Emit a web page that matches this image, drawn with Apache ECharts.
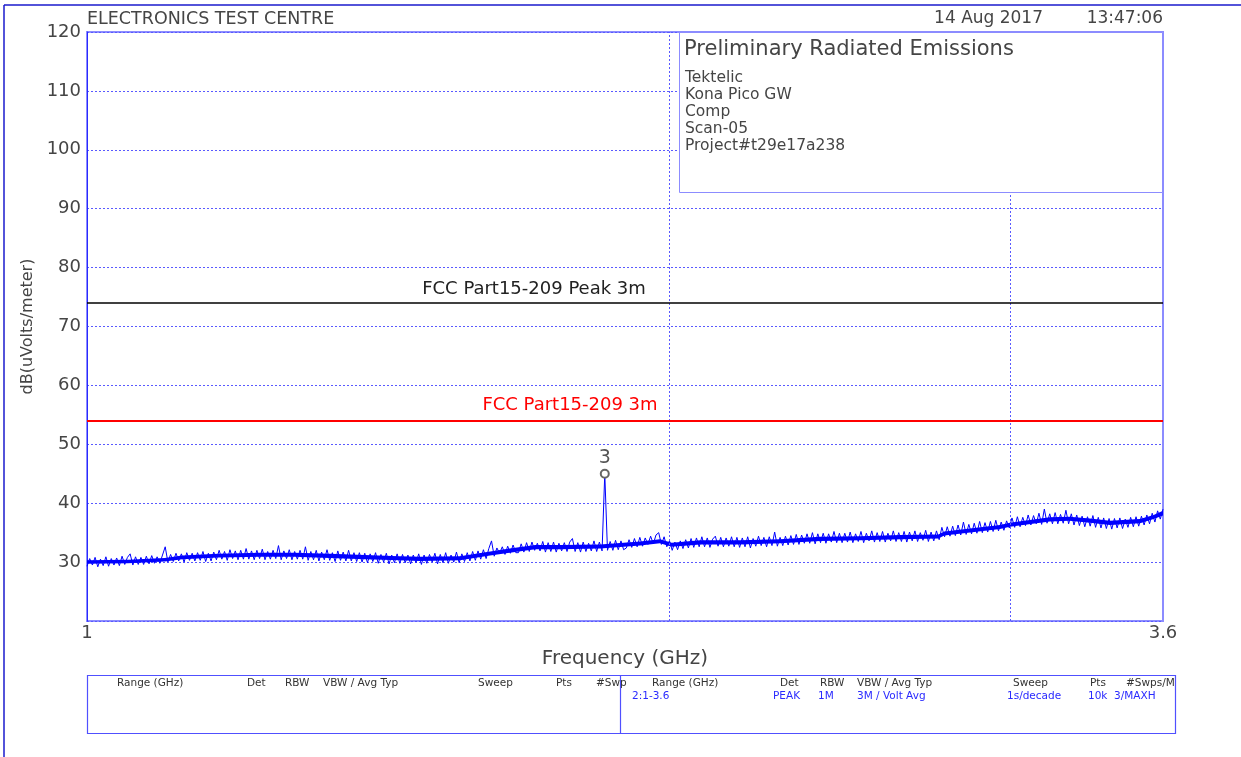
<!DOCTYPE html>
<html><head><meta charset="utf-8">
<script src="https://cdn.jsdelivr.net/npm/echarts@6/dist/echarts.min.js"></script>
<style>html,body{margin:0;padding:0;background:#fff}#c{width:1241px;height:757px}</style>
</head><body><div id="c"></div>
<script>
// ---- data ----
const sweepStartGHz = 1;
const sweepStopGHz = 3.6;
const yMin = 20, yMax = 120, yStep = 10;
const verticalGridGHz = [2, 3];
const limitPeak = { name: 'FCC Part15-209 Peak 3m', level: 74 };
const limitAvg = { name: 'FCC Part15-209 3m', level: 54 };
const markerLabel = '3';
// dense core of the noise band (lower / upper edge), read at these frequencies
const bandFreqs = [1.000,1.050,1.097,1.120,1.169,1.229,1.280,1.335,1.392,1.450,1.486,1.559,1.616,1.654,1.705,1.756,1.842,1.932,1.978,2.006,2.075,2.176,2.282,2.393,2.510,2.633,2.755,2.775,2.965,3.000,3.146,3.220,3.300,3.380,3.503,3.560,3.600];
const bandLow  = [29.7,29.8,30.1,30.5,30.8,30.9,30.9,30.7,30.5,30.3,30.2,30.3,31.1,31.6,32.2,32.2,32.3,32.8,33.2,32.6,33.0,33.0,33.2,33.6,33.7,33.9,34.0,34.5,35.6,36.0,36.9,37.0,36.7,36.3,36.6,37.3,37.9];
const bandHigh = [30.3,30.4,30.7,31.1,31.4,31.6,31.6,31.4,31.2,31.0,30.9,31.0,31.8,32.3,32.9,32.9,33.0,33.5,33.9,33.3,33.7,33.7,33.9,34.3,34.4,34.6,34.7,35.2,36.3,36.7,37.6,37.7,37.4,37.0,37.3,38.0,38.7];
// individual sweep readings (spiky fringe of the trace), log-spaced points
const traceLevels = [
29.3,30.6,29.5,30.8,29.2,30.5,29.4,30.9,29.3,30.6,29.5,30.7,29.4,31.0,29.6,30.8,31.4,29.5,30.9,29.6,
30.8,29.6,31.0,29.7,31.1,29.8,30.9,29.8,31.2,32.6,30.0,31.3,30.1,31.5,30.2,31.4,30.0,31.6,30.3,31.5,
30.2,31.6,30.3,31.8,30.1,31.5,30.2,31.7,30.4,32.0,30.5,31.8,30.3,32.1,30.6,31.9,30.4,32.0,30.5,32.3,
30.5,31.9,30.4,32.0,30.6,32.2,30.4,31.8,30.5,32.0,30.6,32.8,30.4,31.9,30.6,32.1,30.4,31.8,30.5,32.0,
30.5,32.6,30.3,31.8,30.4,32.0,30.2,31.7,30.4,32.1,30.3,31.6,30.1,31.9,30.3,31.7,30.2,32.0,30.2,31.6,
30.1,31.6,30.0,31.5,29.9,31.4,30.1,31.6,29.8,31.3,30.0,31.5,29.7,31.2,29.9,31.4,29.8,31.3,29.9,31.2,
29.7,31.2,29.9,31.4,29.6,31.2,29.8,31.3,30.0,31.5,29.7,31.3,29.9,31.6,29.8,31.2,30.0,31.7,29.9,31.4,
30.1,31.6,30.2,31.8,30.3,31.9,30.5,32.1,30.6,32.3,33.6,31.0,32.4,31.5,32.6,31.3,32.7,31.5,32.9,31.6,
31.6,33.1,31.7,33.3,31.8,33.4,32.0,33.2,31.9,33.5,31.7,33.3,31.8,33.4,31.7,33.2,31.9,33.3,31.8,33.4,
34.0,31.8,33.3,31.7,33.4,31.8,33.2,31.9,33.6,31.8,33.4,31.9,45.0,32.0,33.5,32.0,33.7,32.1,33.6,32.1,
32.4,33.8,32.5,34.0,32.6,34.2,32.7,34.1,33.0,34.4,33.1,34.6,35.0,33.0,34.3,32.6,33.6,32.0,33.4,32.1,
33.6,32.3,33.8,32.4,34.0,32.5,34.1,32.6,34.3,32.6,34.1,32.5,33.9,34.4,32.7,34.2,32.6,34.1,32.7,34.3,
32.6,34.2,32.5,34.1,32.6,34.3,32.4,34.0,32.7,34.4,32.8,34.2,32.6,34.3,32.8,35.1,32.7,34.2,32.8,34.4,
32.9,34.5,33.0,34.7,33.0,34.6,33.2,34.8,33.2,35.0,33.1,34.8,33.3,34.9,33.2,34.8,33.4,35.2,33.3,34.9,
33.3,34.9,33.4,35.1,33.3,34.8,33.5,35.2,33.3,34.9,33.6,35.3,33.4,35.0,33.5,35.2,33.4,34.9,33.6,35.3,
33.5,35.0,33.5,35.2,33.4,35.1,33.6,35.3,33.5,35.0,33.7,35.4,33.5,35.1,33.6,35.3,33.8,35.9,34.3,36.0,
34.4,36.1,34.5,36.3,34.6,36.8,34.7,36.4,34.8,36.6,34.9,36.9,35.0,36.7,35.1,36.9,35.2,37.1,35.3,36.8,
35.4,37.0,35.8,37.5,35.9,37.7,36.0,37.6,36.2,38.0,36.3,37.9,36.5,38.3,36.4,39.0,36.6,38.2,36.5,38.4,
36.5,38.1,36.6,38.8,36.5,38.2,36.3,38.0,36.2,37.8,36.0,37.7,36.1,37.9,35.9,37.6,35.8,37.5,35.7,37.4,
35.6,37.4,35.8,37.5,35.7,37.3,35.9,37.6,36.0,37.7,36.1,37.8,36.3,38.0,36.5,38.3,36.8,38.7,37.3,39.0
];
const infoTitle = 'Preliminary Radiated Emissions';
const infoLines = ['Tektelic', 'Kona Pico GW', 'Comp', 'Scan-05', 'Project#t29e17a238'];
const headerLeft = 'ELECTRONICS TEST CENTRE';
const headerDate = '14 Aug 2017';
const headerTime = '13:47:06';
const tableHeads = ['Range (GHz)', 'Det', 'RBW', 'VBW / Avg Typ', 'Sweep', 'Pts', '#Swp'];
const tableHeads2 = ['Range (GHz)', 'Det', 'RBW', 'VBW / Avg Typ', 'Sweep', 'Pts', '#Swps/M'];
const tableVals2 = ['2:1-3.6', 'PEAK', '1M', '3M / Volt Avg', '1s/decade', '10k', '3/MAXH'];

// ---- build ----
// sweep points are log-spaced between start and stop (analyzer log sweep)
const n = traceLevels.length;
const lr = Math.log10(sweepStopGHz / sweepStartGHz);
const trace = traceLevels.map((v, i) => [sweepStartGHz * Math.pow(10, lr * i / (n - 1)), v]);
const bandData = bandFreqs.map((f, i) => [f, bandLow[i], bandHigh[i]]);

const FF = '"DejaVu Sans", "Liberation Sans", sans-serif';
const TXT = '#454545';
const BL = '#8c8cff';
const GRID = '#5a5aff';

const chart = echarts.init(document.getElementById('c'), null, { renderer: 'canvas' });

function txt(x, y, text, size, color, align) {
  return {
    type: 'text', z: 120, silent: true,
    style: { x: x, y: y, text: text, fill: color || TXT, font: size + 'px ' + FF, textAlign: align || 'left', textVerticalAlign: 'middle' }
  };
}

const graphics = [
  { type: 'line', z: 120, silent: true, shape: { x1: 4, y1: 5, x2: 1241, y2: 5 }, style: { stroke: '#1a1acc', lineWidth: 1.5 } },
  { type: 'line', z: 120, silent: true, shape: { x1: 4, y1: 5, x2: 4, y2: 757 }, style: { stroke: '#1a1acc', lineWidth: 1.5 } },
  txt(87, 19, headerLeft, 17.5),
  txt(1043, 19, headerDate, 17, TXT, 'right'),
  txt(1163, 19, headerTime, 17, TXT, 'right'),
  { type: 'rect', z: 110, silent: true, shape: { x: 679.5, y: 32.5, width: 483, height: 160 }, style: { fill: '#fff', stroke: BL, lineWidth: 1 } },
  txt(684, 50, infoTitle, 21),
  // bottom settings table
  { type: 'rect', z: 110, silent: true, shape: { x: 87.5, y: 675.5, width: 1088, height: 58 }, style: { fill: '#fff', stroke: '#5050ff', lineWidth: 1.2 } },
  { type: 'line', z: 111, silent: true, shape: { x1: 620.5, y1: 675, x2: 620.5, y2: 734 }, style: { stroke: '#5050ff', lineWidth: 1.2 } }
];
infoLines.forEach((t, i) => graphics.push(txt(685, 78 + i * 17, t, 15.5)));
const headX1 = [117, 247, 285, 323, 478, 556, 596];
const headX2 = [652, 780, 820, 857, 1013, 1090, 1126];
const valX2 = [632, 773, 818, 857, 1007, 1088, 1114];
tableHeads.forEach((t, i) => graphics.push(txt(headX1[i], 683, t, 10.5, '#333')));
tableHeads2.forEach((t, i) => graphics.push(txt(headX2[i], 683, t, 10.5, '#333')));
tableVals2.forEach((t, i) => graphics.push(txt(valX2[i], 696, t, 10.5, '#2a2aff')));

chart.setOption({
  animation: false,
  backgroundColor: '#fff',
  grid: { left: 87, right: 78, top: 32, bottom: 136, show: true, borderColor: BL, borderWidth: 2, backgroundColor: 'transparent' },
  xAxis: {
    type: 'log', logBase: 10, min: sweepStartGHz, max: sweepStopGHz,
    name: 'Frequency (GHz)', nameLocation: 'middle', nameGap: 28,
    nameTextStyle: { fontFamily: FF, fontSize: 20, color: TXT },
    axisLine: { show: false }, axisTick: { show: false }, splitLine: { show: false }, minorSplitLine: { show: false },
    axisLabel: { show: true, fontFamily: FF, fontSize: 18, color: TXT, margin: 3, showMinLabel: true, showMaxLabel: true,
      formatter: v => String(Math.round(v * 10) / 10) }
  },
  yAxis: {
    type: 'value', min: yMin, max: yMax, interval: yStep,
    name: 'dB(uVolts/meter)', nameLocation: 'middle', nameGap: 42,
    nameTextStyle: { fontFamily: FF, fontSize: 16, color: TXT },
    axisLine: { show: true, lineStyle: { color: '#2a2aff', width: 1 } },
    axisTick: { show: false },
    axisLabel: { fontFamily: FF, fontSize: 18, color: TXT, margin: 6, formatter: v => v === yMin ? '' : String(v) },
    splitLine: { show: true, lineStyle: { color: GRID, type: [2, 2], width: 1 } }
  },
  graphic: graphics,
  series: [
    {
      name: 'vgrid', type: 'line', data: [], z: 1, silent: true,
      markLine: { silent: true, symbol: 'none', label: { show: false },
        lineStyle: { color: GRID, type: [2, 2], width: 1 },
        data: verticalGridGHz.map(f => ({ xAxis: f })) }
    },
    {
      name: 'band', type: 'custom', data: bandData, z: 2, silent: true,
      encode: { x: 0, y: [1, 2] },
      renderItem: function (params, api) {
        if (params.dataIndex !== 0) return null;
        const lo = [], hi = [];
        for (let i = 0; i < bandData.length; i++) {
          lo.push(api.coord([bandData[i][0], bandData[i][1]]));
          hi.push(api.coord([bandData[i][0], bandData[i][2]]));
        }
        return { type: 'polygon', shape: { points: lo.concat(hi.reverse()) }, style: { fill: '#0000ff' } };
      }
    },
    {
      name: 'trace', type: 'line', data: trace, showSymbol: false, symbol: 'none', sampling: null, z: 3,
      lineStyle: { color: '#0000ff', width: 1, join: 'round' },
      markPoint: {
        symbol: 'emptyCircle', symbolSize: 8, silent: true,
        itemStyle: { color: '#666', borderColor: '#666', borderWidth: 1.2 },
        label: { show: true, position: 'top', distance: 1, formatter: markerLabel, fontFamily: FF, fontSize: 19, color: '#555' },
        data: [{ type: 'max' }]
      }
    },
    {
      name: 'limits', type: 'line', data: [], z: 4, silent: true,
      markLine: { silent: true, symbol: 'none',
        data: [
          { yAxis: limitPeak.level, lineStyle: { color: '#000', width: 1.5, type: 'solid' },
            label: { show: true, position: 'insideMiddleTop', formatter: limitPeak.name, fontFamily: FF, fontSize: 18, color: '#222', distance: 5, offset: [-91, 0] } },
          { yAxis: limitAvg.level, lineStyle: { color: '#ff0000', width: 2, type: 'solid' },
            label: { show: true, position: 'insideMiddleTop', formatter: limitAvg.name, fontFamily: FF, fontSize: 18, color: '#ff0000', distance: 6, offset: [-55, 0] } }
        ] }
    }
  ]
});
</script></body></html>
